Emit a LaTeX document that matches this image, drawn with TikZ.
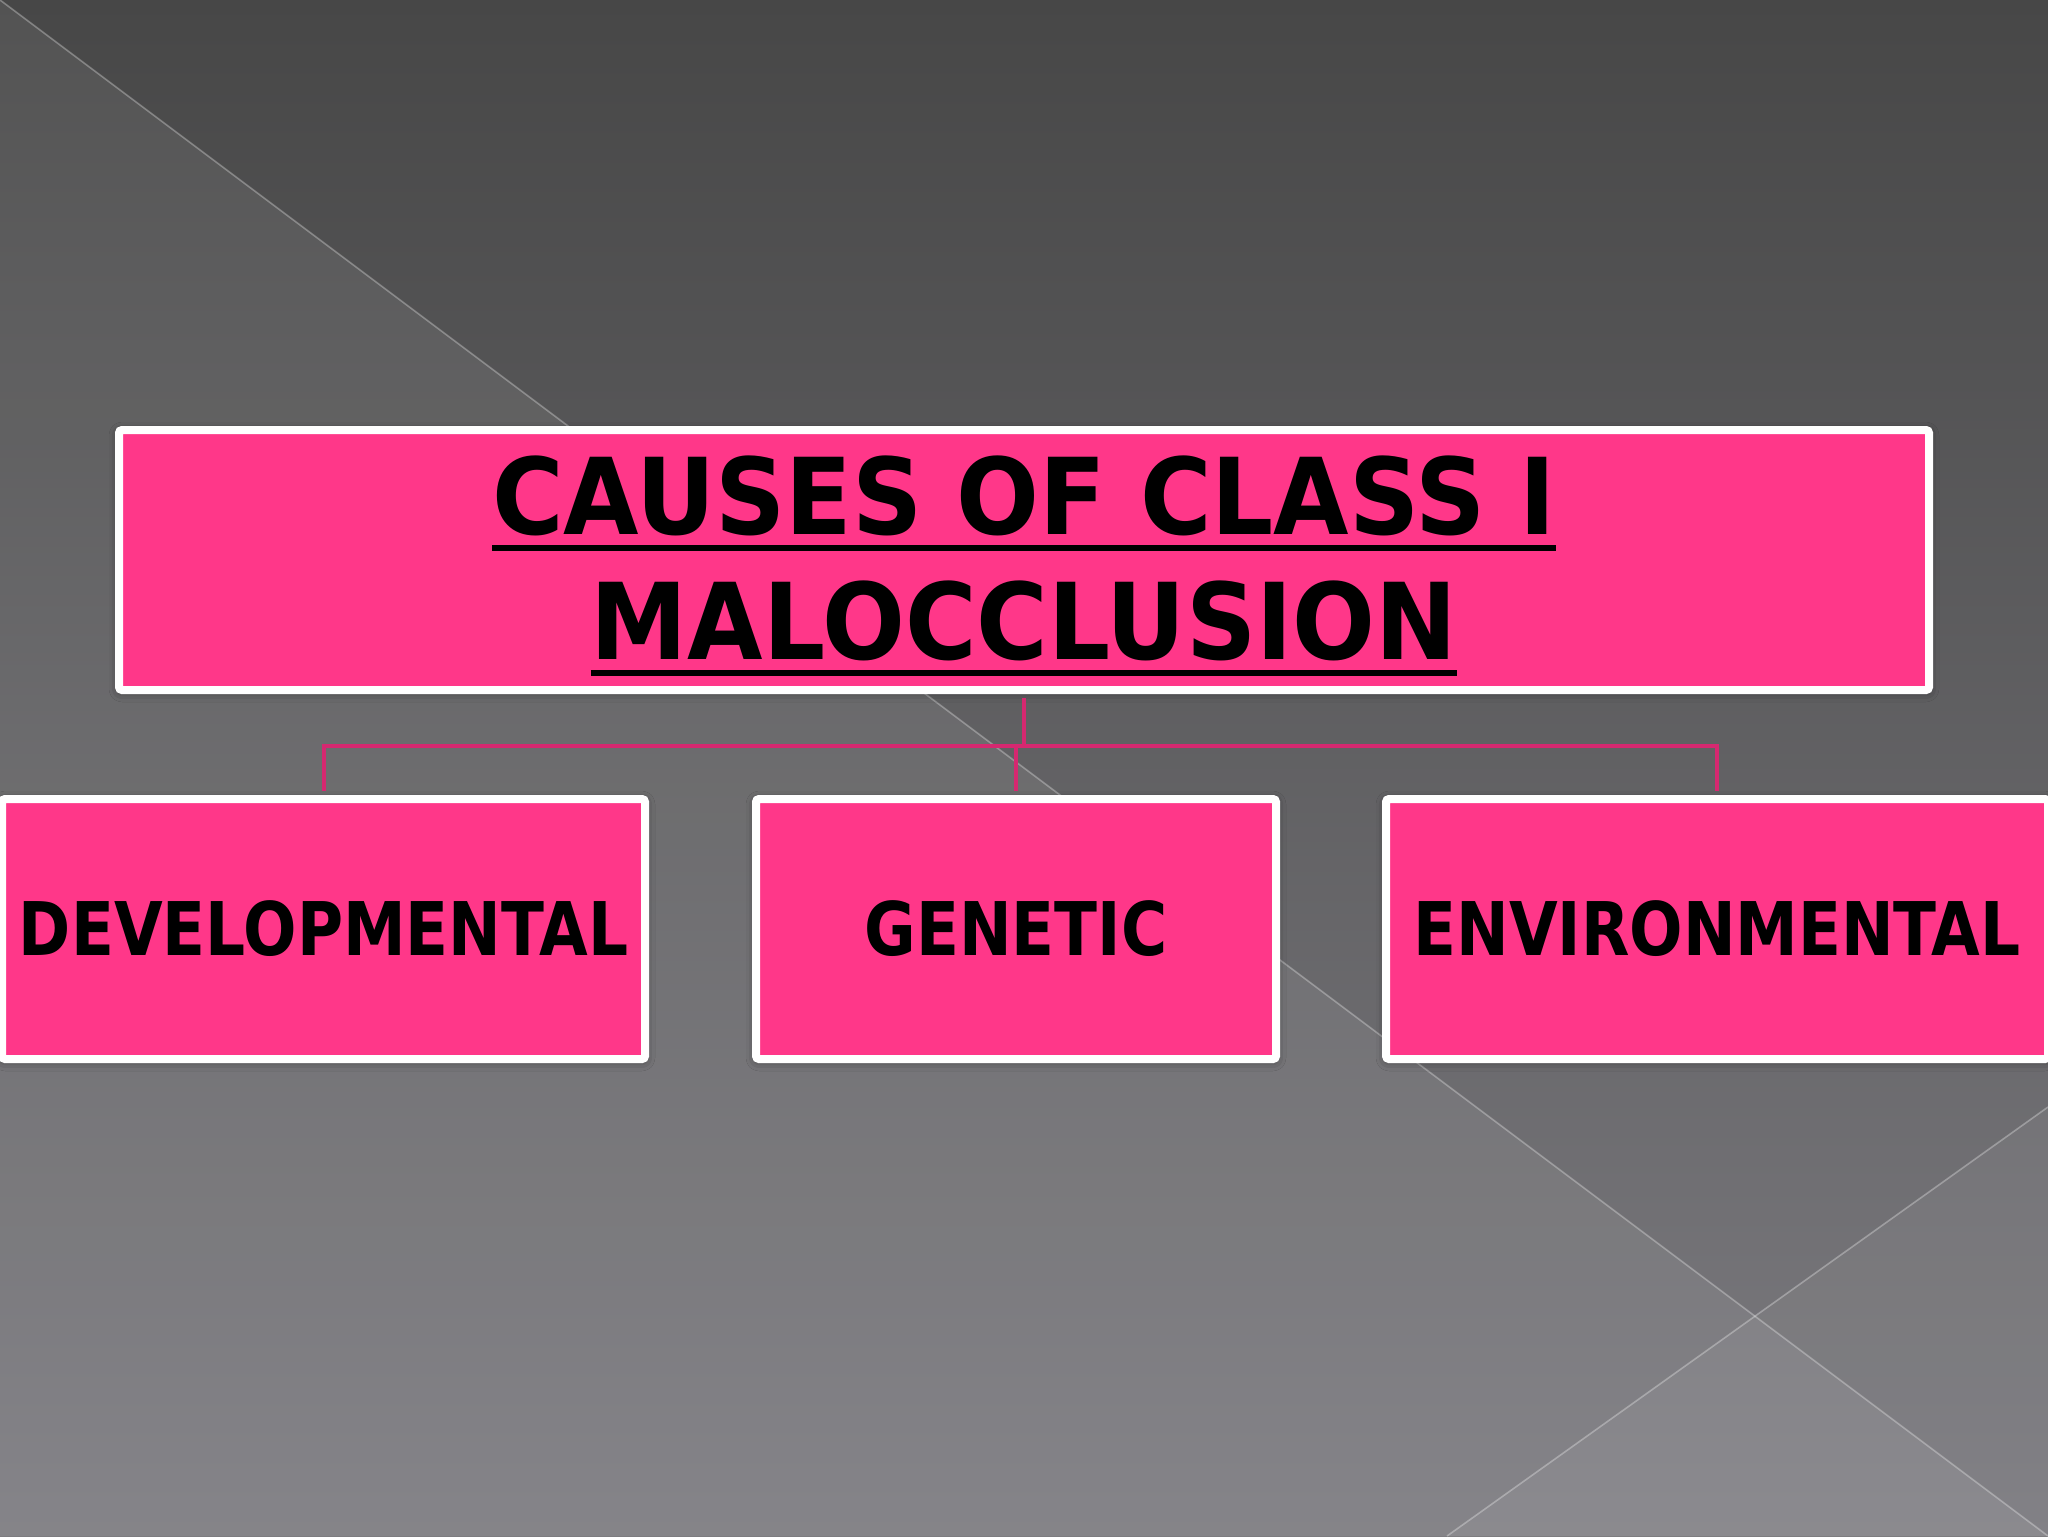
\documentclass[tikz,border=0pt]{standalone}
\usepackage{fontspec}
\usetikzlibrary{shadows.blur}

\newfontfamily\boxfont{DejaVu Sans}[UprightFont=* Bold, FakeStretch=0.85]
\newfontfamily\headfont{DejaVu Sans}[UprightFont=* Bold, FakeStretch=0.92]
% thick underline under a title line
\newcommand{\titleline}[1]{\setbox0\hbox{#1}\rlap{\rule[-8.6pt]{\wd0}{3.2pt}}\box0}

\definecolor{boxpink}{RGB}{255,55,137}
\definecolor{linkpink}{RGB}{214,40,112}
\definecolor{bgtop}{RGB}{71,71,71}
\definecolor{bgbottom}{RGB}{124,123,128}

\tikzset{every picture/.style={line width=0.75pt}}
\tikzset{
  causebox/.style={draw=white, line width=4pt, fill=boxpink, rounded corners=1.5pt,
    minimum height=130pt, inner sep=0pt, text=black,
    blur shadow={shadow xshift=0pt, shadow yshift=-1pt, shadow blur radius=5pt, shadow opacity=45}},
  titlefont/.style={font=\headfont\fontsize{53}{62.5}\selectfont},
  itemfont/.style={font=\boxfont\fontsize{37}{44}\selectfont},
  link/.style={draw=linkpink, line width=2pt, shorten >=2pt},
}

\begin{document}
\begin{tikzpicture}[x=0.5pt,y=0.5pt,yscale=-1,xscale=1]
		\useasboundingbox (0,0) rectangle (2048,1536);
		\clip (0,0) rectangle (2048,1536);

		%Shape: Background
		\shade [top color=bgtop, bottom color=bgbottom] (0,0) rectangle (2048,1536);
		\fill [white, opacity=0.07] (0,0) -- (2048,1536) -- (0,1536) -- cycle;
		\fill [white, opacity=0.05] (1447,1536) -- (2048,1107) -- (2048,1536) -- cycle;
		%Straight Lines
		\draw [white, opacity=0.3, line width=0.8pt] (0,0) -- (2048,1536);
		\draw [white, opacity=0.3, line width=0.8pt] (1447,1536) -- (2048,1107);

		%Shape: Rectangle
		\draw (1024,560) node [causebox][minimum width=905pt][align=center][titlefont] (title) {\rule{0pt}{45.3pt}\titleline{CAUSES OF CLASS I}\\\titleline{MALOCCLUSION}};

		%Shape: Rectangle
		\draw (323.5,929) node [causebox][minimum width=321.5pt][itemfont] (devel) {DEVELOPMENTAL};
		%Shape: Rectangle
		\draw (1016,929) node [causebox][minimum width=260pt][itemfont] (genetic) {GENETIC};
		%Shape: Rectangle
		\draw (1717,929) node [causebox][minimum width=331pt][itemfont] (enviro) {ENVIRONMENTAL};

		%Straight Lines
		\coordinate (fork) at (1024,746);
		\draw [link, shorten <=2pt, shorten >=0pt] (title.south) -- (fork);
		\draw [link] (fork) -| (devel.north);
		\draw [link] (fork) -| (enviro.north);
		\draw [link] (genetic.north |- fork) -- (genetic.north);

\end{tikzpicture}
\end{document}
